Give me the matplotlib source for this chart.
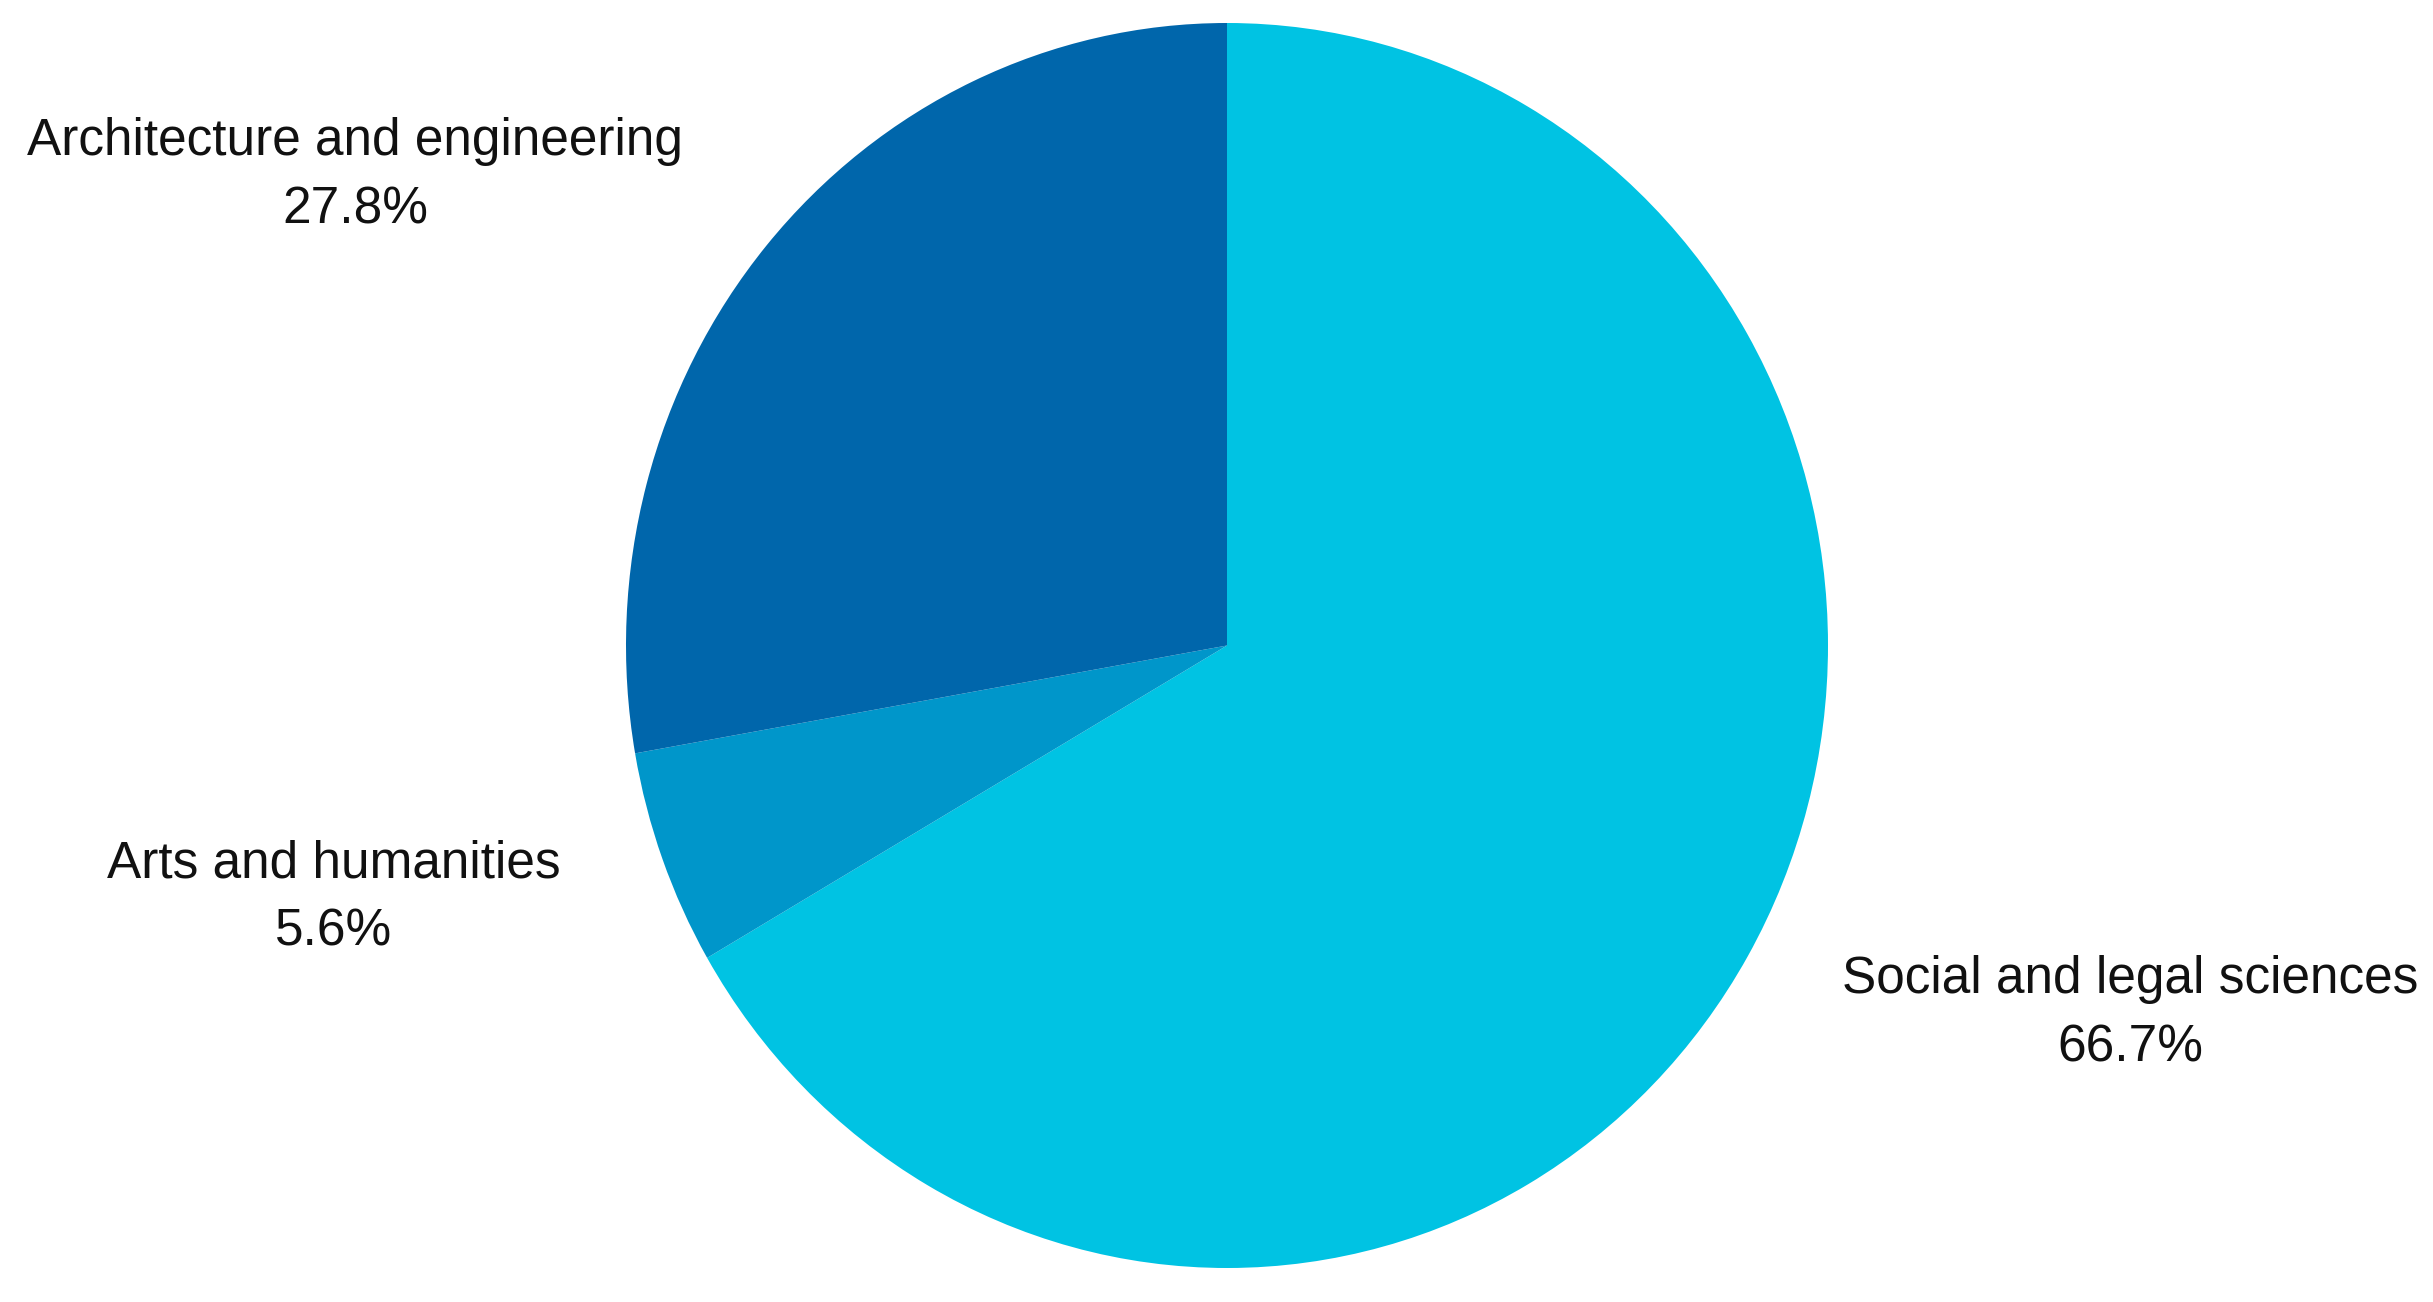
import matplotlib
matplotlib.use("Agg")
import matplotlib.pyplot as plt

categories = ["Social and legal sciences", "Arts and humanities", "Architecture and engineering"]
shares = [66.7, 5.6, 27.8]
colors = ["#00C3E3", "#0096CA", "#0066AB"]

W, H = 2433, 1302
fig = plt.figure(figsize=(W / 100, H / 100), dpi=100)
fig.patch.set_facecolor("white")

# pie bounding box in pixels (slightly elliptical in the reference)
left_px, right_px, top_px, bottom_px = 626, 1828, 23, 1268
ax = fig.add_axes([left_px / W, (H - bottom_px) / H,
                   (right_px - left_px) / W, (bottom_px - top_px) / H])
ax.pie(shares, colors=colors, startangle=90, counterclock=False,
       wedgeprops=dict(linewidth=0, antialiased=True))
ax.set_aspect("auto")
ax.set_xlim(-1, 1)
ax.set_ylim(-1, 1)
ax.axis("off")

label_pos = {  # label block centres in pixels
    "Social and legal sciences": (2130, 1014),
    "Arts and humanities": (334, 898),
    "Architecture and engineering": (355, 176),
}
for cat, val in zip(categories, shares):
    x, y = label_pos[cat]
    fig.text(x / W, 1 - y / H, f"{cat}\n{val:.1f}%", ha="center", va="center",
             fontsize=37, family="Liberation Sans", color="#111111",
             linespacing=1.52)

fig.savefig("out.png", dpi=100, facecolor="white")
